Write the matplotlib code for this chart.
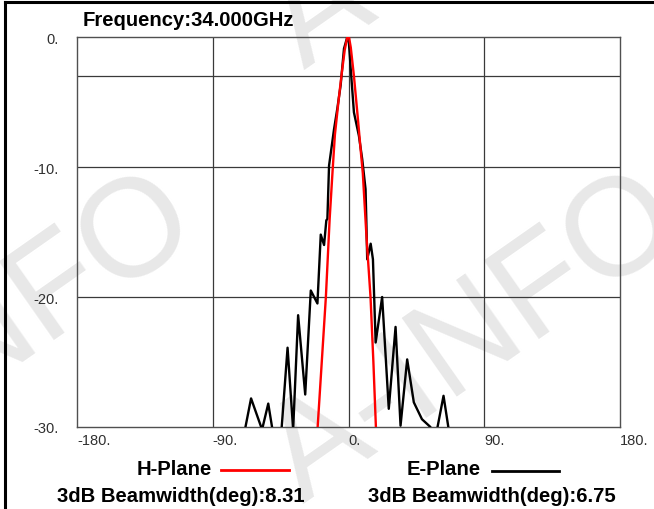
import matplotlib
matplotlib.use('Agg')
import matplotlib.pyplot as plt
from matplotlib.lines import Line2D

plt.rcParams['font.family'] = ['Liberation Sans', 'DejaVu Sans']

# H-Plane (red) pattern, deg / dB
h_angle = [-21, -18, -15, -12.5, -10.5, -9, -6.5, -4.7, -2.5, -0.8, 0.3, 1.5,
           3.6, 6, 8, 9.5, 12, 14.6, 16.5, 18.5]
h_db = [-31, -25.5, -20, -14, -10.2, -7.5, -4.8, -3, -1, 0, 0, -0.8,
        -3, -6, -8.6, -10.5, -15.5, -20, -25, -31]

# E-Plane (black) pattern, deg / dB
e_angle = [-70, -64.6, -57.3, -53.2, -49.3, -44.8, -44.6, -40.4, -36.7, -33.4,
           -28.7, -25, -20.6, -18.4, -16.2, -14.7, -14, -12.9, -9.6, -7.4,
           -5.2, -3, -0.8, 0.3, 1.5, 3.6, 6.9, 9.1, 11.3, 11.8, 12.4, 14.7,
           16.2, 18, 22.3, 26.7, 31.2, 34.5, 38.9, 43.3, 48.7, 54.3, 56.5,
           58.7, 63, 67.5]
e_db = [-31, -27.8, -30.2, -28.2, -31, -31, -30.5, -23.9, -30.2, -21.4,
        -27.5, -19.5, -20.5, -15.2, -16, -14.1, -14, -9.9, -7.1, -5.5,
        -3.7, -0.9, 0, -0.5, -2.5, -5.8, -7.6, -9.4, -11.7, -14, -17.1, -15.9,
        -17.1, -23.5, -20, -28.6, -22.3, -29.9, -24.8, -28.1, -29.4, -30, -31,
        -30.2, -27.6, -31]

x_ticks = [-180, -90, 0, 90, 180]
x_labels = ['-180.', '-90.', '0.', '90.', '180.']
y_ticks = [0, -10, -20, -30]
y_labels = ['0.', '-10.', '-20.', '-30.']

W, H = 654, 510
fig = plt.figure(figsize=(W / 100, H / 100), dpi=100)

# watermark (clipped by the figure edge like in the original)
for cx, cy in [(475, 340), (-10, 341), (476, -94)]:
    fig.text(cx / W, 1 - cy / H, 'A-INFO', rotation=35, ha='center', va='center',
             rotation_mode='anchor', fontsize=100, color='#e8e8e8', zorder=-1)

ax = fig.add_axes([77 / W, 1 - 428 / H, (620 - 77) / W, (428 - 38) / H])
ax.patch.set_alpha(0)
ax.set_xlim(-180, 180)
ax.set_ylim(-30, 0)

gcol = '#3a3a3a'
for xv in [-90, 0, 90]:
    ax.axvline(xv, color=gcol, lw=0.9, zorder=1)
for yv in [-3, -10, -20]:
    ax.axhline(yv, color=gcol, lw=0.9, zorder=1)
for s in ax.spines.values():
    s.set_color('#505050')
    s.set_linewidth(1.0)

ax.plot(e_angle, e_db, color='black', lw=1.7, zorder=3)
ax.plot(h_angle, h_db, color='#ff0000', lw=1.7, zorder=4)

ax.set_xticks(x_ticks)
ax.set_xticklabels(x_labels, ha='left', fontsize=10.5, color='#303030')
ax.set_yticks(y_ticks)
ax.set_yticklabels(y_labels, fontsize=10.5, color='#303030')
ax.tick_params(axis='both', length=0)
ax.tick_params(axis='x', pad=4)
ax.tick_params(axis='y', pad=13)

# frame on the left and top of the window
fig.add_artist(Line2D([5 / W, 5 / W], [0, 1 - 3 / H], color='black', lw=2.2))
fig.add_artist(Line2D([5 / W, 1], [1 - 3 / H, 1 - 3 / H], color='black', lw=2.2))

fs = 14.6
fig.text(83 / W, 1 - 20 / H, 'Frequency:34.000GHz', fontsize=fs, fontweight='bold',
         va='center', ha='left')
fig.text(174 / W, 1 - 470 / H, 'H-Plane', fontsize=fs, fontweight='bold',
         va='center', ha='center')
fig.add_artist(Line2D([221 / W, 289 / W], [1 - 471 / H, 1 - 471 / H], color='#ff0000', lw=2))
fig.text(444 / W, 1 - 470 / H, 'E-Plane', fontsize=fs, fontweight='bold',
         va='center', ha='center')
fig.add_artist(Line2D([492 / W, 559 / W], [1 - 472 / H, 1 - 472 / H], color='black', lw=2))
fig.text(181 / W, 1 - 497 / H, '3dB Beamwidth(deg):8.31', fontsize=fs, fontweight='bold',
         va='center', ha='center')
fig.text(492 / W, 1 - 497 / H, '3dB Beamwidth(deg):6.75', fontsize=fs, fontweight='bold',
         va='center', ha='center')

fig.savefig('out.png', dpi=100)
